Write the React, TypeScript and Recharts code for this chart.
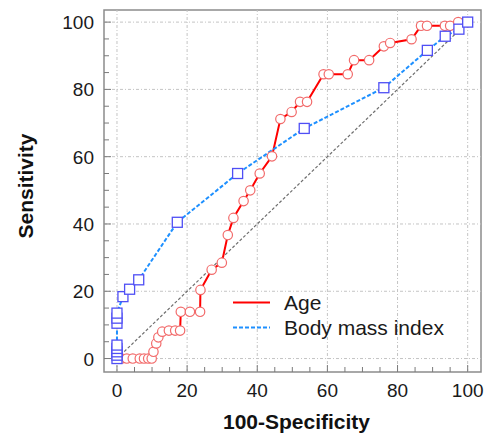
import React from "react";
import {
  LineChart,
  Line,
  XAxis,
  YAxis,
  ReferenceLine,
  ReferenceArea,
  Legend,
} from "recharts";

// ROC points: [100-Specificity, Sensitivity]
const AGE_X = [0, 1.3, 2.8, 4.5, 6.5, 7.7, 8.9, 9.9, 10.4, 11.2, 11.8, 12.9, 14.8, 16.6, 18, 18.2, 20.8, 23.7, 23.8, 27, 29.9, 31.6, 33.2, 36.1, 38, 40.7, 44.2, 46.6, 49.8, 52.2, 54.2, 58.9, 60.4, 65.8, 67.6, 71.9, 76.1, 77.9, 84, 86.7, 88.4, 93.5, 95, 97.3, 100];
const AGE_Y = [0, 0, 0, 0, 0, 0, 0, 0, 2, 4.5, 6.3, 8, 8.3, 8.3, 8.3, 13.9, 13.9, 13.9, 20.4, 26.4, 28.5, 36.7, 41.8, 46.8, 50, 55, 60.1, 71.2, 73.3, 76.3, 76.3, 84.5, 84.5, 84.5, 88.7, 88.7, 92.8, 93.8, 94.9, 98.9, 98.9, 98.9, 98.9, 100, 100];

const BMI_X = [0, 0, 0, 0, 0, 0, 0, 0, 1.7, 3.6, 6.2, 17.2, 34.4, 53.4, 76.1, 88.5, 93.6, 97.5, 100];
const BMI_Y = [0, 1, 2, 3, 4, 10.5, 12, 13.5, 18.4, 20.6, 23.4, 40.5, 55, 68.4, 80.5, 91.6, 95.8, 97.9, 100];

const DIAG_X = [0, 100];
const DIAG_Y = [0, 100];

const MAJOR_TICKS = [0, 20, 40, 60, 80, 100];
const MINOR_TICKS = [0, 5, 10, 15, 20, 25, 30, 35, 40, 45, 50, 55, 60, 65, 70, 75, 80, 85, 90, 95, 100];

const X_DOMAIN = [-3.7, 103.8];
const Y_DOMAIN = [-4, 103.6];

const zip = (xs: number[], ys: number[]) => xs.map((x, i) => ({ x, y: ys[i] }));

const ageData = zip(AGE_X, AGE_Y);
const bmiData = zip(BMI_X, BMI_Y);
const diagData = zip(DIAG_X, DIAG_Y);

const FONT = "'Liberation Sans', Arial, sans-serif";
const TICK_COLOR = "#7a7a7a";
const GRID = { stroke: "#c4c4c4", strokeDasharray: "3 2 1 2", strokeWidth: 1 };

const XTick = (props: any) => {
  const { x, y, payload } = props;
  const major = MAJOR_TICKS.includes(payload.value);
  return (
    <g>
      <line x1={x} x2={x} y1={y} y2={y - (major ? 7 : 5)} stroke={TICK_COLOR} strokeWidth={1} />
      {major && (
        <text x={x} y={y + 25} textAnchor="middle" fontSize={19} fill="#1a1a1a" fontFamily={FONT}>
          {payload.value}
        </text>
      )}
    </g>
  );
};

const YTick = (props: any) => {
  const { x, y, payload } = props;
  const major = MAJOR_TICKS.includes(payload.value);
  return (
    <g>
      <line x1={x} x2={x + (major ? 7 : 5)} y1={y} y2={y} stroke={TICK_COLOR} strokeWidth={1} />
      {major && (
        <text x={x - 10} y={y + 7} textAnchor="end" fontSize={19} fill="#1a1a1a" fontFamily={FONT}>
          {payload.value}
        </text>
      )}
    </g>
  );
};

const CircleDot = (props: any) => {
  const { cx, cy, index } = props;
  return <circle key={`c${index}`} cx={cx} cy={cy} r={4.7} fill="#fff" stroke="#f26b6b" strokeWidth={1.2} />;
};

const SquareDot = (props: any) => {
  const { cx, cy, index } = props;
  return <rect key={`s${index}`} x={cx - 5} y={cy - 5} width={10} height={10} fill="#fff" stroke="#4f4ff5" strokeWidth={1.3} />;
};

const renderLegend = () => (
  <div style={{ fontFamily: FONT, fontSize: 21, color: "#1a1a1a", lineHeight: "25px" }}>
    <div style={{ display: "flex", alignItems: "center" }}>
      <svg width={54} height={25}>
        <line x1={3} x2={40} y1={12.5} y2={12.5} stroke="#ff0000" strokeWidth={2} />
      </svg>
      <span>Age</span>
    </div>
    <div style={{ display: "flex", alignItems: "center" }}>
      <svg width={54} height={25}>
        <line x1={3} x2={40} y1={12.5} y2={12.5} stroke="#1e90ff" strokeWidth={2} strokeDasharray="4 2" />
      </svg>
      <span>Body mass index</span>
    </div>
  </div>
);

const YLabel = (props: any) => {
  const { viewBox } = props;
  const cx = viewBox.x + 25;
  const cy = viewBox.y + viewBox.height / 2 - 5;
  return (
    <text
      x={cx}
      y={cy}
      transform={`rotate(-90 ${cx} ${cy})`}
      textAnchor="middle"
      dominantBaseline="central"
      fontSize={21}
      fontWeight="bold"
      fill="#111"
      fontFamily={FONT}
    >
      Sensitivity
    </text>
  );
};

const XLabel = (props: any) => {
  const { viewBox } = props;
  const cx = viewBox.x + viewBox.width / 2 + 4;
  return (
    <text x={cx} y={viewBox.y + 57} textAnchor="middle" fontSize={21} fontWeight="bold" fill="#111" fontFamily={FONT}>
      100-Specificity
    </text>
  );
};

export default function App() {
  return (
    <div style={{ position: "absolute", left: 0, top: 0, background: "#fff" }}>
      <LineChart width={487} height={434} margin={{ top: 10, right: 6, bottom: 0, left: 0 }}>
        <XAxis
          dataKey="x"
          type="number"
          domain={X_DOMAIN}
          ticks={MINOR_TICKS}
          interval={0}
          tickSize={0}
          tickMargin={0}
          axisLine={false}
          tickLine={false}
          tick={<XTick />}
          height={62}
          allowDataOverflow
          label={<XLabel />}
        />
        <YAxis
          dataKey="y"
          type="number"
          domain={Y_DOMAIN}
          ticks={MINOR_TICKS}
          interval={0}
          tickSize={0}
          tickMargin={0}
          axisLine={false}
          tickLine={false}
          tick={<YTick />}
          width={104}
          allowDataOverflow
          label={<YLabel />}
        />
        {MAJOR_TICKS.map((v) => (
          <ReferenceLine key={`gx${v}`} x={v} {...GRID} />
        ))}
        {MAJOR_TICKS.map((v) => (
          <ReferenceLine key={`gy${v}`} y={v} {...GRID} />
        ))}
        <ReferenceArea
          x1={X_DOMAIN[0]}
          x2={X_DOMAIN[1]}
          y1={Y_DOMAIN[0]}
          y2={Y_DOMAIN[1]}
          fill="none"
          fillOpacity={0}
          stroke="#8c8c8c"
          strokeWidth={1.5}
        />
        <Line
          data={diagData}
          dataKey="y"
          stroke="#6e6e6e"
          strokeWidth={1.2}
          strokeDasharray="3 2"
          dot={false}
          isAnimationActive={false}
          legendType="none"
        />
        <Line
          data={ageData}
          dataKey="y"
          name="Age"
          stroke="#ff0000"
          strokeWidth={2}
          dot={<CircleDot />}
          isAnimationActive={false}
        />
        <Line
          data={bmiData}
          dataKey="y"
          name="Body mass index"
          stroke="#1e90ff"
          strokeWidth={2}
          strokeDasharray="4 2"
          dot={<SquareDot />}
          isAnimationActive={false}
        />
        <Legend
          layout="vertical"
          align="center"
          verticalAlign="middle"
          content={renderLegend}
          wrapperStyle={{ position: "absolute", left: 230, top: 290, width: 260, height: 50 }}
        />
      </LineChart>
    </div>
  );
}
